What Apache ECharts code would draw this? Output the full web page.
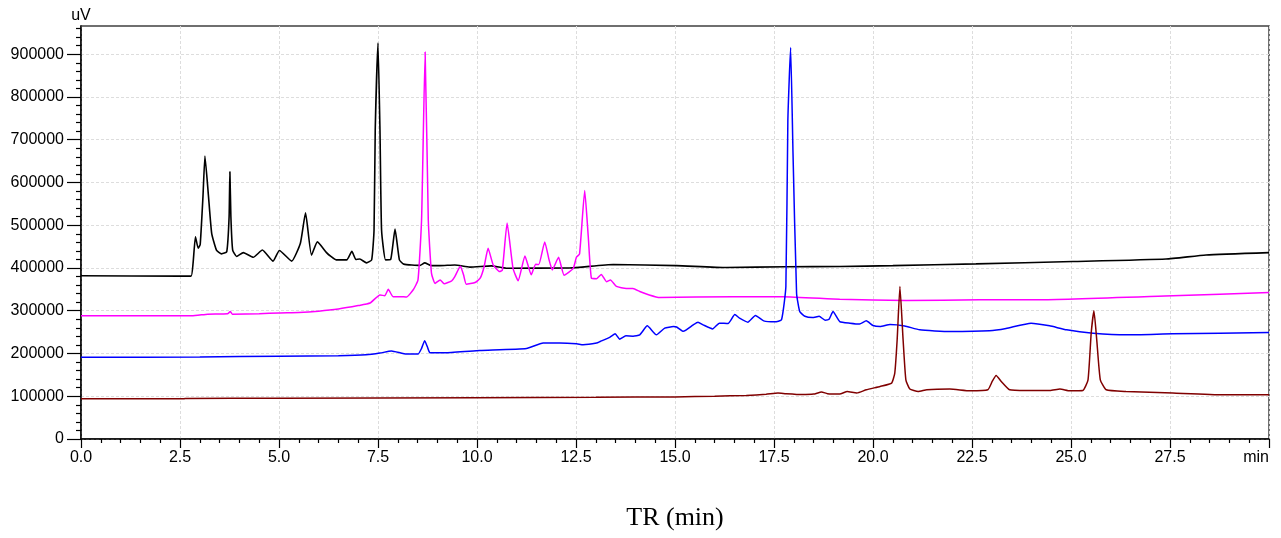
<!DOCTYPE html>
<html>
<head>
<meta charset="utf-8">
<script src="https://cdn.jsdelivr.net/npm/echarts@6/dist/echarts.min.js"></script>
<style>
  html, body { margin: 0; padding: 0; background: #ffffff; }
  #chart { width: 1281px; height: 538px; }
</style>
</head>
<body>
<div id="chart"></div>
<script>
// ---- data (retention time in min, signal in uV) ----
const xTickLabelLast = 'min';
const yUnit = 'uV';
const xTitle = 'TR (min)';

const blackTrace = [
  [0, 382000], [2.5, 381000], [2.78, 381000], [2.83, 411000], [2.89, 473000], [2.96, 446000],
  [3.01, 455000], [3.08, 567000], [3.13, 662000], [3.22, 567000], [3.30, 481000], [3.42, 442000],
  [3.55, 433000], [3.68, 438000], [3.74, 520000], [3.76, 625000], [3.785, 520000], [3.83, 442000],
  [3.93, 427000], [4.10, 436000], [4.35, 425000], [4.58, 442000], [4.85, 416000], [5.01, 441000],
  [5.32, 416000], [5.54, 458000], [5.67, 529000], [5.82, 430000], [5.97, 461000], [6.20, 436000],
  [6.31, 427000], [6.44, 419000], [6.71, 419000], [6.84, 439000], [6.94, 420000], [7.04, 421000],
  [7.21, 412000], [7.34, 419000], [7.40, 489000], [7.43, 722000], [7.50, 926000], [7.55, 722000],
  [7.59, 489000], [7.69, 419000], [7.82, 420000], [7.93, 491000], [8.04, 419000], [8.15, 409000],
  [8.56, 406000], [8.68, 412000], [8.85, 405500], [9.06, 405500], [9.44, 407000], [9.82, 402000],
  [10.36, 405000], [10.74, 399500], [12.34, 400000], [13.44, 408000], [15.04, 405500],
  [16.30, 401000], [17.81, 403000], [19.16, 403500], [20.50, 405500], [22.60, 409500],
  [25.05, 415000], [27.40, 421000], [28.41, 430500], [30, 436000]
];

const magentaTrace = [
  [0, 288000], [2.8, 288000], [3.2, 292000], [3.7, 293000], [3.77, 298000], [3.82, 292000],
  [4.5, 293000], [5.0, 295000], [5.5, 296000], [6.0, 299000], [6.5, 304000], [7.0, 312000],
  [7.3, 318000], [7.55, 337000], [7.67, 335000], [7.76, 350000], [7.88, 333000], [8.06, 333000],
  [8.22, 332000], [8.39, 349000], [8.51, 372000], [8.60, 512000], [8.69, 905000], [8.77, 512000],
  [8.85, 388000], [8.94, 364000], [9.07, 372000], [9.17, 363000], [9.36, 370000], [9.44, 380000],
  [9.58, 404000], [9.66, 384000], [9.73, 362000], [9.95, 366000], [10.08, 376000], [10.18, 403000],
  [10.28, 446000], [10.41, 407000], [10.57, 391500], [10.64, 395000], [10.76, 505000], [10.91, 399000],
  [11.04, 370000], [11.21, 428000], [11.37, 384000], [11.48, 409000], [11.56, 408000], [11.71, 461000],
  [11.82, 419000], [11.90, 395500], [12.06, 425000], [12.20, 383000], [12.43, 399000], [12.51, 425000],
  [12.59, 433000], [12.72, 581000], [12.81, 473000], [12.89, 376000], [13.02, 375000], [13.14, 385000],
  [13.27, 368000], [13.37, 372000], [13.52, 357000], [13.77, 352000], [13.94, 352000], [14.11, 345000],
  [14.35, 337000], [14.61, 331000], [16.46, 333000], [17.73, 333000], [19.16, 327000], [20.84, 324000],
  [22.69, 325500], [24.20, 325500], [27.57, 335000], [30, 342500]
];

const blueTrace = [
  [0, 191000], [3, 192000], [5, 193500], [6.5, 195000], [7.2, 197000], [7.55, 201000], [7.84, 206000],
  [8.22, 198600], [8.51, 198600], [8.60, 212000], [8.68, 230000], [8.76, 212000], [8.81, 202000],
  [9.23, 202000], [10.07, 207000], [11.25, 211600], [11.67, 224300], [12.09, 224300], [12.51, 222600],
  [12.68, 220300], [13.02, 224300], [13.11, 228000], [13.36, 238300], [13.49, 246000], [13.60, 233600],
  [13.76, 241300], [13.94, 240600], [14.11, 243600], [14.30, 264700], [14.53, 243600], [14.74, 259300],
  [14.96, 263000], [15.04, 262000], [15.21, 252000], [15.46, 267000], [15.58, 273000], [15.71, 267000],
  [15.95, 257500], [16.12, 271000], [16.34, 270000], [16.51, 291000], [16.63, 282700], [16.84, 273300],
  [17.03, 289000], [17.24, 276300], [17.52, 274000], [17.69, 278700], [17.80, 356500], [17.85, 745900],
  [17.92, 915700], [17.98, 668100], [18.07, 341100], [18.15, 298000], [18.28, 287000], [18.47, 284000],
  [18.64, 287000], [18.79, 278000], [18.89, 280000], [18.99, 298100], [19.16, 274700], [19.42, 271000],
  [19.66, 269000], [19.83, 276300], [20.0, 265400], [20.18, 263000], [20.43, 268000], [20.80, 264500],
  [21.18, 255300], [21.94, 251300], [22.94, 253000], [23.36, 258400], [23.99, 271000], [24.46, 264700],
  [24.89, 255300], [25.56, 247600], [26.40, 243600], [27.57, 246000], [30, 249000]
];

const brownTrace = [
  [0, 94000], [2.6, 94000], [2.65, 95000], [5, 95500], [10, 96500], [13, 97500], [15, 98500],
  [16, 100000], [16.8, 102000], [17.3, 104500], [17.6, 107500], [17.8, 106000], [18.2, 104000],
  [18.5, 105000], [18.7, 110000], [18.85, 106000], [19.16, 105100], [19.35, 111200], [19.59, 107500],
  [19.83, 115200], [20.18, 122900], [20.47, 130800], [20.55, 154200], [20.61, 232000], [20.68, 356500],
  [20.76, 232000], [20.83, 138500], [20.93, 116800], [21.14, 111200], [21.36, 115200], [21.94, 116800],
  [22.45, 112800], [22.90, 115200], [23.01, 134600], [23.11, 148600], [23.24, 134600], [23.45, 115200],
  [23.87, 113500], [24.47, 113500], [24.72, 116800], [24.97, 112800], [25.30, 113500], [25.43, 138500],
  [25.51, 247600], [25.58, 299700], [25.65, 232000], [25.74, 138500], [25.89, 115200], [26.39, 111200],
  [27.57, 107500], [28.83, 103500], [30, 103500]
];

const seriesList = [
  { name: 'A', color: '#000000', width: 1.6, data: blackTrace },
  { name: 'B', color: '#ff00ff', width: 1.5, data: magentaTrace },
  { name: 'C', color: '#0000ff', width: 1.5, data: blueTrace },
  { name: 'D', color: '#800000', width: 1.5, data: brownTrace }
];

const chart = echarts.init(document.getElementById('chart'), null, { renderer: 'canvas' });
const labelFont = 'Liberation Sans, Arial, sans-serif';

chart.setOption({
  animation: false,
  backgroundColor: '#ffffff',
  grid: {
    left: 81, right: 12, top: 26, bottom: 99,
    show: true, borderColor: '#404040', borderWidth: 1.5, backgroundColor: 'transparent'
  },
  xAxis: {
    type: 'value',
    min: 0, max: 30, interval: 2.5,
    name: xTitle,
    nameLocation: 'middle',
    nameGap: 66,
    nameTextStyle: { fontFamily: 'Liberation Serif, Times New Roman, serif', fontSize: 26, color: '#000' },
    axisLine: { show: true, onZero: false, lineStyle: { color: '#000', width: 1.5 } },
    axisTick: { show: true, length: 9, lineStyle: { color: '#000', width: 1.2 } },
    minorTick: { show: true, splitNumber: 5, length: 4, lineStyle: { color: '#000', width: 1.2 } },
    axisLabel: {
      fontFamily: labelFont, fontSize: 16, color: '#000', margin: 11,
      alignMaxLabel: 'right',
      formatter: v => (Math.abs(v - 30) < 1e-9 ? xTickLabelLast : v.toFixed(1))
    },
    splitLine: { show: true, lineStyle: { color: '#dddddd', width: 1, type: [3, 2] } }
  },
  yAxis: {
    type: 'value',
    min: 0, max: 966000, interval: 100000,
    name: yUnit,
    nameLocation: 'end',
    nameGap: 2,
    nameTextStyle: { fontFamily: labelFont, fontSize: 16, color: '#000' },
    axisLine: { show: true, onZero: false, lineStyle: { color: '#000', width: 1.5 } },
    axisTick: { show: true, length: 14, lineStyle: { color: '#000', width: 1.2 },
      customValues: [0, 100000, 200000, 300000, 400000, 500000, 600000, 700000, 800000, 900000] },
    minorTick: { show: true, splitNumber: 5, length: 5, lineStyle: { color: '#000', width: 1.2 } },
    axisLabel: {
      fontFamily: labelFont, fontSize: 16, color: '#000', margin: 17,
      showMaxLabel: false,
      formatter: v => (v % 100000 === 0 ? String(v) : '')
    },
    splitLine: { show: true, lineStyle: { color: '#dddddd', width: 1, type: [3, 2] } }
  },
  series: seriesList.map(s => ({
    name: s.name,
    type: 'line',
    data: s.data,
    showSymbol: false,
    smooth: 0.15,
    lineStyle: { color: s.color, width: s.width },
    itemStyle: { color: s.color },
    emphasis: { disabled: true }
  }))
});
</script>
</body>
</html>
